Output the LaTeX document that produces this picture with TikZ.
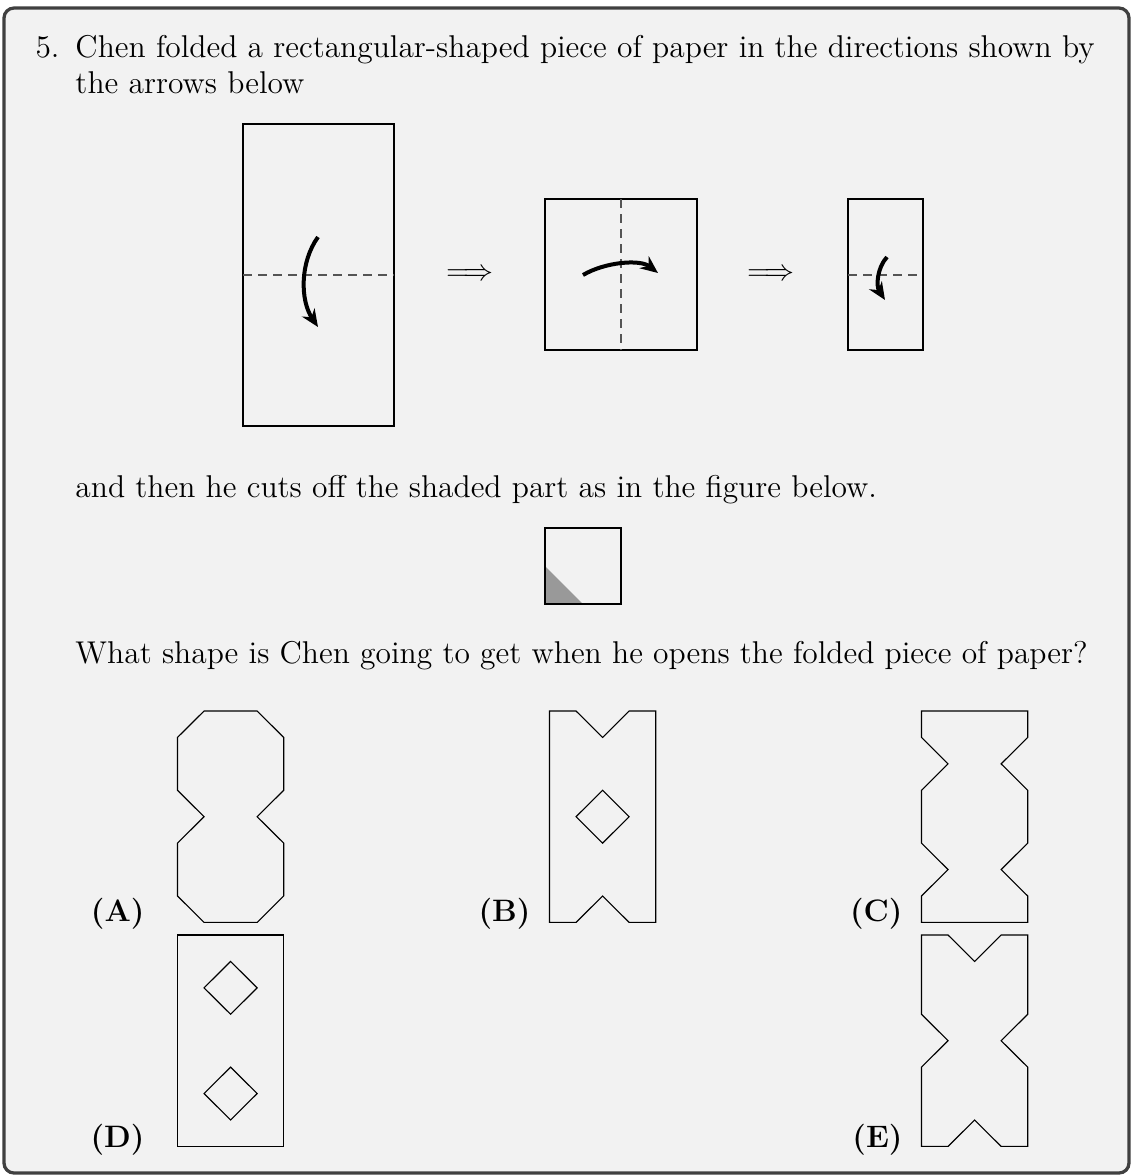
\documentclass[tikz,border=0pt]{standalone}
\usetikzlibrary{arrows.meta}
\definecolor{panel}{HTML}{F2F2F2}
\definecolor{framec}{HTML}{404040}
\definecolor{dashc}{HTML}{555555}
\definecolor{cutgray}{HTML}{999999}
\begin{document}
\begin{tikzpicture}[x=0.4pt,y=-0.4pt,
  txt/.style={anchor=base west,inner sep=0pt,font=\fontsize{12.6pt}{15pt}\selectfont},
  lbl/.style={anchor=base east,inner sep=0pt,font=\fontsize{12.4pt}{15pt}\selectfont\bfseries},
  paper/.style={draw=black,line width=0.45pt},
  fold/.style={draw=dashc,line width=0.5pt,dash pattern=on 3.6pt off 2.4pt},
  foldarrow/.style={line width=1.6pt,-{Stealth[length=7pt,width=6pt]}},
  ansshape/.style={draw=black,line width=0.45pt,line join=miter}]
\useasboundingbox (0,0) rectangle (1133,1176);
\fill[white] (0,0) rectangle (1133,1176);
\draw[framec,fill=panel,line width=1.3pt,rounded corners=4pt] (4,8) rectangle (1129,1173);

% text
\node[txt] (num) at (35,57) {5.};
\node[txt] (l1) at (75,57) {Chen folded a rectangular-shaped piece of paper in the directions shown by};
\node[txt] (l2) at (75,93) {the arrows below};
\node[txt] (l3) at (75,497) {and then he cuts off the shaded part as in the figure below.};
\node[txt] (l4) at (75,663) {What shape is Chen going to get when he opens the folded piece of paper?};

% step 1
\draw[paper] (243,124) rectangle (394,426);
\draw[fold] (243,275) -- (394,275);
\draw[foldarrow] (318,237) .. controls (300,262) and (300,300) .. (318,327);
\node[inner sep=0pt,font=\fontsize{12.2pt}{14.6pt}\selectfont] (imp1) at (470,275) {$\Longrightarrow$};

% step 2
\draw[paper] (545,199) rectangle (697,350);
\draw[fold] (621,199) -- (621,350);
\draw[foldarrow] (583,275) .. controls (605,262) and (640,259) .. (658,273);
\node[inner sep=0pt,font=\fontsize{12.2pt}{14.6pt}\selectfont] (imp2) at (771,275) {$\Longrightarrow$};

% step 3
\draw[paper] (848,199) rectangle (923,350);
\draw[fold] (848,275) -- (923,275);
\draw[foldarrow] (887,257) .. controls (877,268) and (876,286) .. (885,300);

% cut
\fill[cutgray] (545,566) -- (583,604) -- (545,604) -- cycle;
\draw[paper] (545,528) rectangle (621,604);

% answers
\begin{scope}[shift={(177.5,711)},x=10.62pt,y=-10.57pt]
  \draw[ansshape] (1,0) -- (3,0) -- (4,1) -- (4,3) -- (3,4) -- (4,5) -- (4,7) -- (3,8) -- (1,8) -- (0,7) -- (0,5) -- (1,4) -- (0,3) -- (0,1) -- cycle;
\end{scope}
\node[lbl] (la) at (145,921) {(A)};

\begin{scope}[shift={(549.5,711)},x=10.62pt,y=-10.57pt]
  \draw[ansshape] (0,0) -- (1,0) -- (2,1) -- (3,0) -- (4,0) -- (4,8) -- (3,8) -- (2,7) -- (1,8) -- (0,8) -- cycle;
  \draw[ansshape] (2,3) -- (3,4) -- (2,5) -- (1,4) -- cycle;
\end{scope}
\node[lbl] (lb) at (531,921) {(B)};

\begin{scope}[shift={(921.5,711)},x=10.62pt,y=-10.57pt]
  \draw[ansshape] (0,0) -- (4,0) -- (4,1) -- (3,2) -- (4,3) -- (4,5) -- (3,6) -- (4,7) -- (4,8) -- (0,8) -- (0,7) -- (1,6) -- (0,5) -- (0,3) -- (1,2) -- (0,1) -- cycle;
\end{scope}
\node[lbl] (lc) at (903,921) {(C)};

\begin{scope}[shift={(177.5,935)},x=10.62pt,y=-10.57pt]
  \draw[ansshape] (0,0) rectangle (4,8);
  \draw[ansshape] (2,1) -- (3,2) -- (2,3) -- (1,2) -- cycle;
  \draw[ansshape] (2,5) -- (3,6) -- (2,7) -- (1,6) -- cycle;
\end{scope}
\node[lbl] (ld) at (145,1147) {(D)};

\begin{scope}[shift={(921.5,935)},x=10.62pt,y=-10.57pt]
  \draw[ansshape] (0,0) -- (1,0) -- (2,1) -- (3,0) -- (4,0) -- (4,3) -- (3,4) -- (4,5) -- (4,8) -- (3,8) -- (2,7) -- (1,8) -- (0,8) -- (0,5) -- (1,4) -- (0,3) -- cycle;
\end{scope}
\node[lbl] (le) at (903,1147) {(E)};
\end{tikzpicture}
\end{document}
